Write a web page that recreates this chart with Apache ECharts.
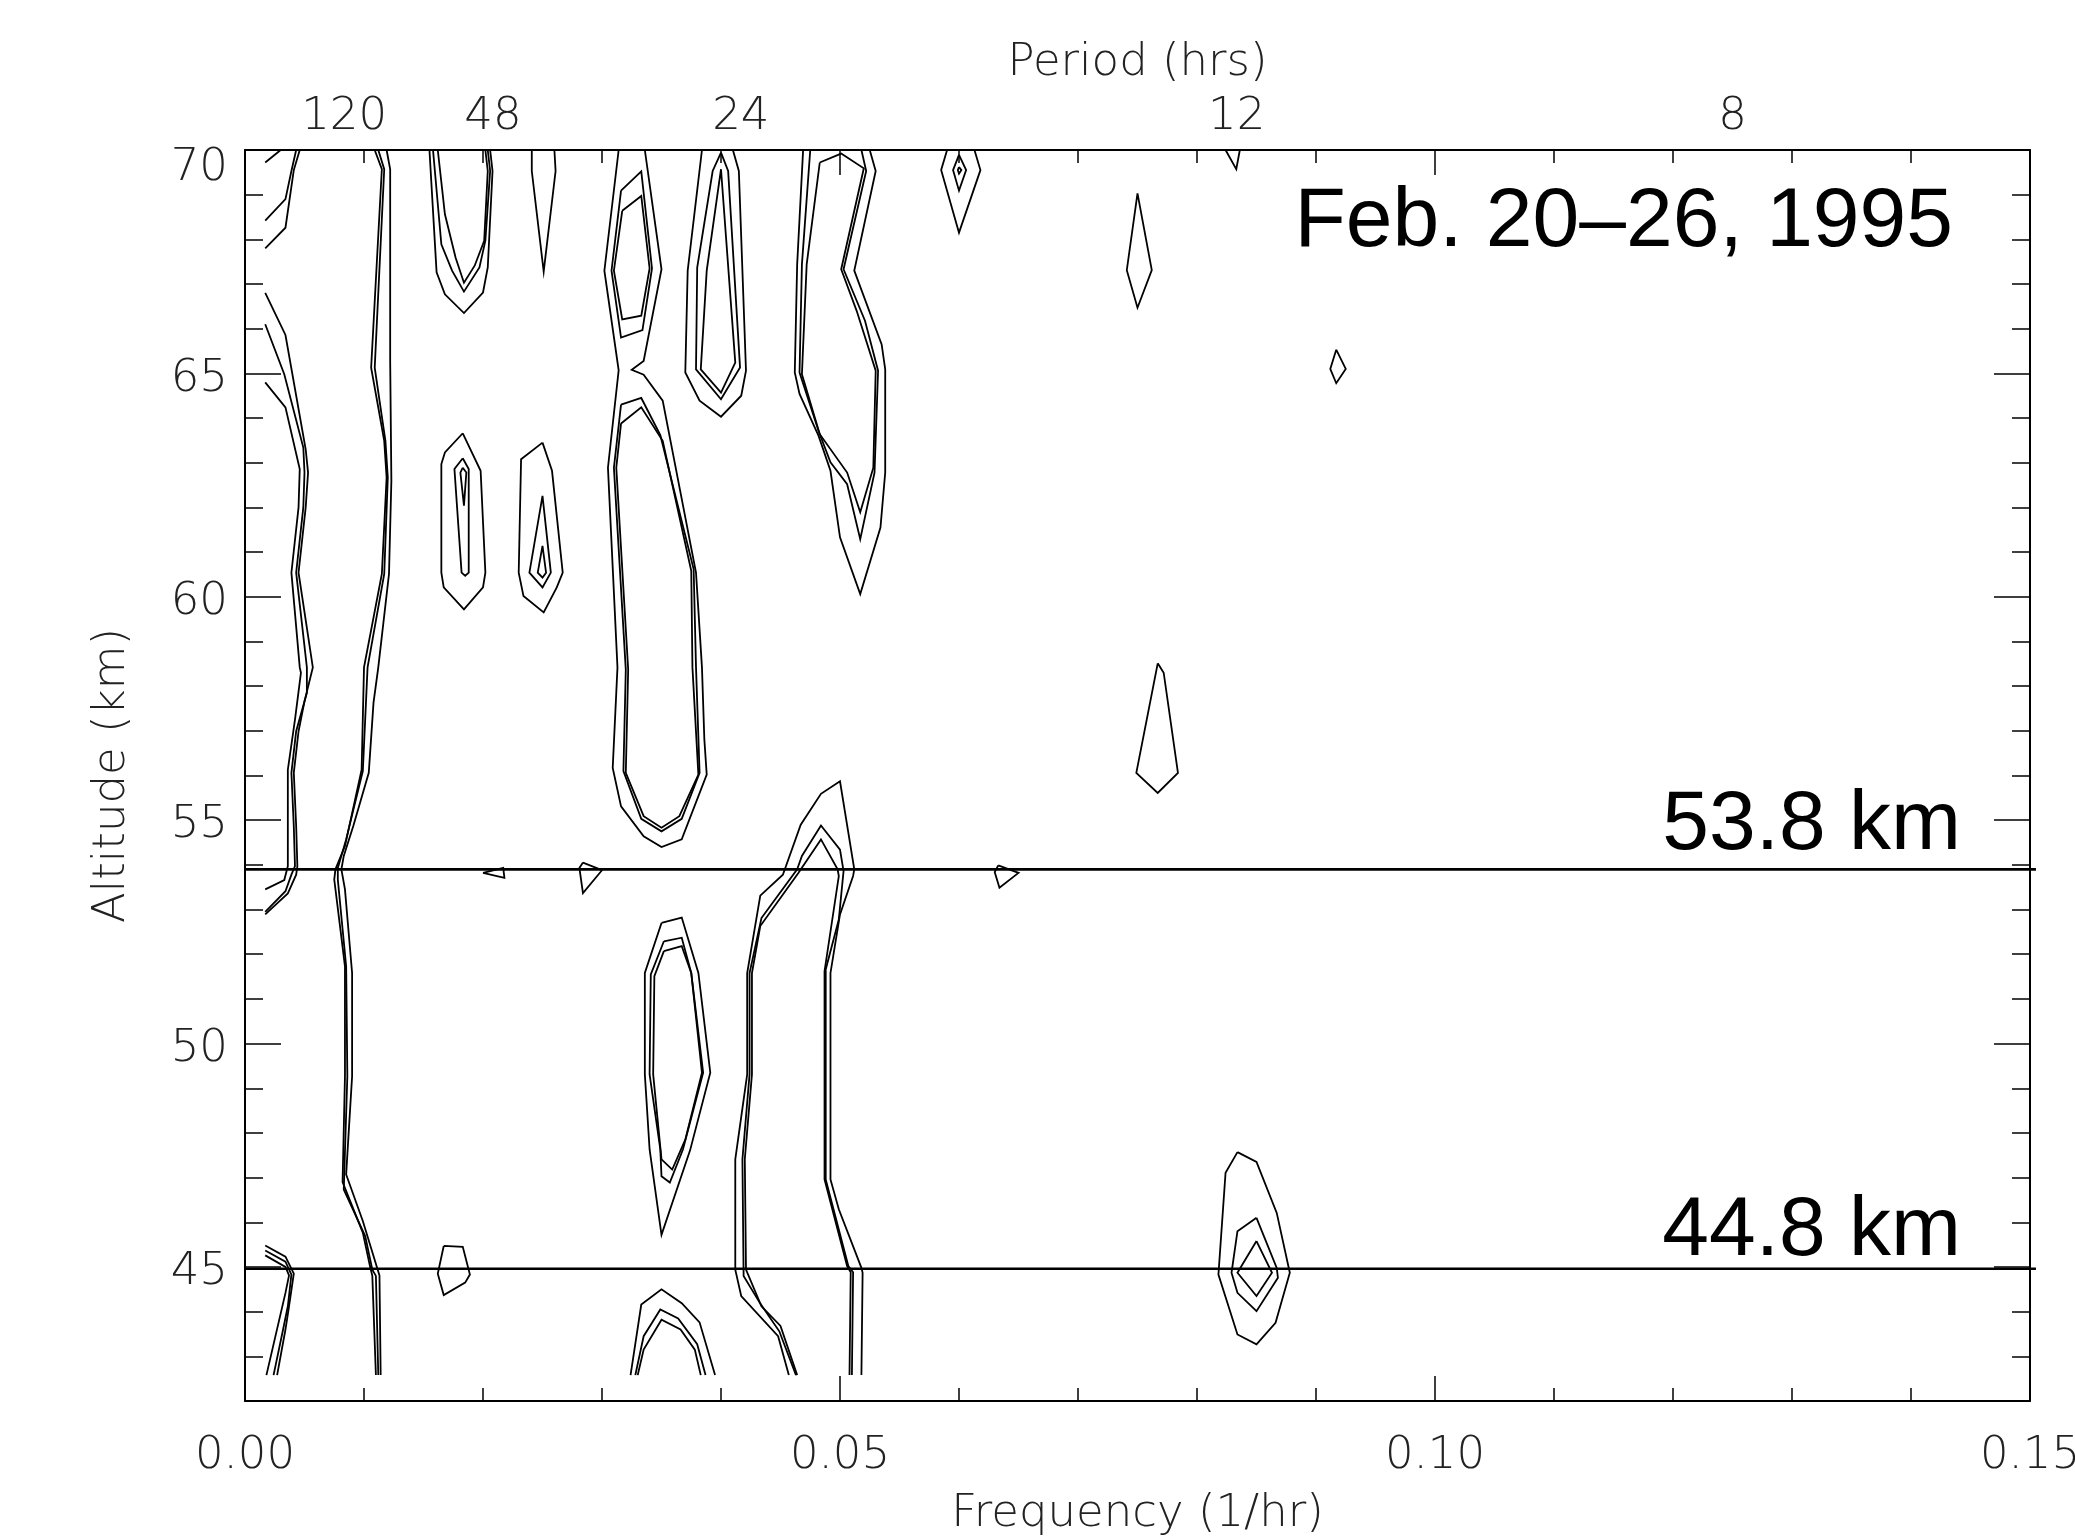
<!DOCTYPE html>
<html>
<head>
<meta charset="utf-8">
<title>Period / frequency contours</title>
<script src="https://cdn.jsdelivr.net/npm/echarts@6/dist/echarts.min.js"></script>
<style>
  html, body { margin: 0; padding: 0; background: #fff; }
  #chart { width: 2075px; height: 1537px; }
</style>
</head>
<body>
<div id="chart"></div>
<script>
// axis values
const freqRange = [0, 0.15];
const altRange = [42, 70];
const altMajor = [45, 50, 55, 60, 65, 70];
const periodHours = [120, 48, 24, 12, 8];
const refAltitudes = [53.9, 44.96];
const refLabels = ["53.8 km", "44.8 km"];

// contour lines, [frequency (1/hr), altitude (km)]
const edgeTop1 = [[0.0017, 69.72], [0.0030, 70.0]];
const edgeTop2 = [[0.0017, 68.42], [0.0034, 68.90], [0.0039, 69.53], [0.0043, 70.0]];
const edgeTop3 = [[0.0017, 67.80], [0.0034, 68.26], [0.0041, 69.55], [0.0046, 70.0]];
const edgeBand1 = [[0.0017, 66.80], [0.0034, 65.86], [0.0051, 63.30], [0.0053, 62.78], [0.0051, 62.00], [0.0045, 60.54], [0.0057, 58.42], [0.0050, 57.66], [0.0045, 56.99], [0.0041, 56.06], [0.0043, 54.87], [0.0044, 53.97], [0.0043, 53.78], [0.0036, 53.36], [0.0017, 52.89]];
const edgeBand2 = [[0.0017, 66.10], [0.0033, 64.98], [0.0049, 63.34], [0.0050, 62.78], [0.0049, 62.00], [0.0043, 60.54], [0.0052, 58.42], [0.0052, 57.85], [0.0043, 56.99], [0.0039, 56.06], [0.0041, 54.87], [0.0042, 53.97], [0.0039, 53.78], [0.0034, 53.41], [0.0017, 52.95]];
const edgeBand3 = [[0.0017, 64.80], [0.0034, 64.24], [0.0046, 62.86], [0.0045, 62.00], [0.0039, 60.54], [0.0046, 58.42], [0.0047, 58.30], [0.0042, 57.25], [0.0036, 56.13], [0.0036, 53.97], [0.0033, 53.66], [0.0017, 53.45]];
const edgeLow1 = [[0.0017, 45.48], [0.0034, 45.23], [0.0041, 44.85], [0.0037, 44.12], [0.0034, 43.60], [0.0027, 42.58]];
const edgeLow2 = [[0.0017, 45.37], [0.0034, 45.12], [0.0039, 44.83], [0.0036, 44.12], [0.0032, 43.60], [0.0024, 42.58]];
const edgeLow3 = [[0.0017, 45.26], [0.0034, 45.00], [0.0037, 44.81], [0.0034, 44.42], [0.0018, 42.58]];

const band120a = [[0.0109, 70.0], [0.0115, 69.57], [0.0106, 65.13], [0.0117, 63.49], [0.0119, 62.67], [0.0115, 60.51], [0.0100, 58.42], [0.0098, 56.13], [0.0084, 54.42], [0.0076, 53.90], [0.0075, 53.67], [0.0084, 51.73], [0.0084, 49.27], [0.0082, 46.90], [0.0099, 45.77], [0.0105, 45.02], [0.0107, 44.80], [0.0110, 42.58]];
const band120b = [[0.0112, 70.0], [0.0117, 69.57], [0.0109, 65.13], [0.0118, 63.49], [0.0120, 62.67], [0.0117, 60.51], [0.0103, 58.42], [0.0099, 56.10], [0.0085, 54.57], [0.0078, 53.93], [0.0078, 53.67], [0.0085, 51.73], [0.0086, 49.27], [0.0083, 46.73], [0.0101, 45.69], [0.0107, 44.94], [0.0110, 44.80], [0.0112, 42.58]];
const band120c = [[0.0119, 70.0], [0.0122, 69.57], [0.0122, 65.28], [0.0123, 62.60], [0.0121, 60.51], [0.0112, 58.42], [0.0108, 57.63], [0.0104, 56.06], [0.0091, 54.87], [0.0083, 54.20], [0.0081, 53.90], [0.0084, 53.45], [0.0090, 51.58], [0.0090, 49.27], [0.0085, 47.07], [0.0099, 46.03], [0.0111, 44.98], [0.0113, 44.81], [0.0114, 42.58]];

const u48a = [[0.0155, 70.0], [0.0161, 67.26], [0.0168, 66.77], [0.0184, 66.35], [0.0200, 66.81], [0.0204, 67.37], [0.0208, 69.53], [0.0206, 70.0]];
const u48b = [[0.0158, 70.0], [0.0165, 67.89], [0.0174, 67.30], [0.0184, 66.83], [0.0197, 67.37], [0.0202, 67.97], [0.0206, 69.53], [0.0204, 70.0]];
const u48c = [[0.0162, 70.0], [0.0168, 68.56], [0.0177, 67.59], [0.0184, 67.03], [0.0193, 67.41], [0.0201, 67.97], [0.0204, 69.53], [0.0202, 70.0]];
const spike36 = [[0.0241, 70.0], [0.0241, 69.53], [0.0251, 67.28], [0.0261, 69.53], [0.0260, 70.0]];

const blob55a = [[0.0183, 63.66], [0.0198, 62.82], [0.0202, 60.54], [0.0200, 60.21], [0.0184, 59.72], [0.0167, 60.21], [0.0165, 60.54], [0.0165, 62.97], [0.0168, 63.23], [0.0183, 63.66]];
const blob55b = [[0.0183, 63.10], [0.0188, 62.86], [0.0188, 60.54], [0.0185, 60.47], [0.0182, 60.54], [0.0176, 62.86], [0.0183, 63.10]];
const blob55c = [[0.0183, 62.89], [0.0186, 62.78], [0.0184, 62.04], [0.0181, 62.78], [0.0183, 62.89]];
const blob40a = [[0.0250, 63.45], [0.0258, 62.82], [0.0267, 60.54], [0.0262, 60.21], [0.0251, 59.65], [0.0234, 60.02], [0.0230, 60.54], [0.0232, 63.08], [0.0250, 63.45]];
const blob40b = [[0.0250, 62.26], [0.0257, 60.54], [0.0250, 60.21], [0.0239, 60.54], [0.0250, 62.26]];
const blob40c = [[0.0250, 61.14], [0.0253, 60.54], [0.0250, 60.43], [0.0246, 60.54], [0.0250, 61.14]];

const band30outer = [[0.0314, 70.0], [0.0302, 67.30], [0.0314, 65.07], [0.0305, 62.89], [0.0313, 58.42], [0.0309, 56.17], [0.0316, 55.31], [0.0335, 54.64], [0.0350, 54.40], [0.0367, 54.57], [0.0388, 56.02], [0.0386, 56.81], [0.0384, 58.42], [0.0379, 60.54], [0.0351, 64.39], [0.0335, 64.97], [0.0325, 65.08], [0.0335, 65.28], [0.0350, 67.33], [0.0336, 70.0]];
const upper30a = [[0.0316, 69.09], [0.0333, 69.52], [0.0342, 67.35], [0.0334, 65.97], [0.0316, 65.80], [0.0308, 67.30], [0.0316, 69.09]];
const upper30b = [[0.0317, 68.64], [0.0333, 68.97], [0.0340, 67.35], [0.0333, 66.29], [0.0317, 66.21], [0.0310, 67.30], [0.0317, 68.64]];
const lower30a = [[0.0316, 64.30], [0.0333, 64.45], [0.0349, 63.62], [0.0377, 60.62], [0.0379, 58.42], [0.0382, 56.06], [0.0367, 55.03], [0.0350, 54.75], [0.0333, 55.03], [0.0318, 56.10], [0.0320, 58.37], [0.0310, 62.89], [0.0316, 64.30]];
const lower30b = [[0.0316, 63.88], [0.0333, 64.24], [0.0351, 63.49], [0.0375, 60.58], [0.0376, 58.42], [0.0381, 56.02], [0.0365, 55.09], [0.0350, 54.83], [0.0335, 55.09], [0.0320, 56.06], [0.0322, 58.37], [0.0312, 62.89], [0.0316, 63.88]];

const tall24a = [[0.0384, 70.0], [0.0372, 67.30], [0.0370, 65.02], [0.0382, 64.39], [0.0400, 64.03], [0.0417, 64.50], [0.0421, 65.06], [0.0415, 69.53], [0.0410, 70.0]];
const tall24b = [[0.0400, 69.94], [0.0406, 69.53], [0.0416, 65.13], [0.0400, 64.42], [0.0379, 65.09], [0.0380, 67.37], [0.0393, 69.53], [0.0400, 69.94]];
const tall24c = [[0.0400, 69.57], [0.0412, 65.24], [0.0400, 64.57], [0.0383, 65.09], [0.0388, 67.30], [0.0400, 69.57]];

const loop20a = [[0.0469, 70.0], [0.0464, 67.44], [0.0462, 65.02], [0.0466, 64.54], [0.0482, 63.60], [0.0492, 62.82], [0.0500, 61.33], [0.0517, 60.06], [0.0534, 61.55], [0.0538, 62.78], [0.0538, 65.09], [0.0535, 65.65], [0.0512, 67.30], [0.0530, 69.53], [0.0525, 70.0]];
const loop20b = [[0.0475, 70.0], [0.0468, 67.44], [0.0466, 65.02], [0.0482, 63.71], [0.0492, 63.01], [0.0506, 62.52], [0.0517, 61.29], [0.0529, 62.78], [0.0532, 65.06], [0.0521, 66.18], [0.0503, 67.33], [0.0522, 69.53], [0.0518, 70.0]];
const loop20c = [[0.0483, 69.72], [0.0501, 69.92], [0.0520, 69.59], [0.0501, 67.33], [0.0514, 66.40], [0.0530, 65.06], [0.0528, 62.89], [0.0517, 61.89], [0.0506, 62.78], [0.0483, 63.64], [0.0468, 64.98], [0.0472, 67.44], [0.0483, 69.72]];

const diamond16a = [[0.0590, 70.0], [0.0585, 69.55], [0.0600, 68.15], [0.0618, 69.55], [0.0613, 70.0]];
const diamond16b = [[0.0600, 69.89], [0.0606, 69.55], [0.0600, 69.09], [0.0595, 69.55], [0.0600, 69.89]];
const diamond16c = [[0.0600, 69.62], [0.0602, 69.55], [0.0600, 69.47], [0.0599, 69.55], [0.0600, 69.62]];
const spike13 = [[0.0750, 69.03], [0.0762, 67.31], [0.0750, 66.47], [0.0741, 67.31], [0.0750, 69.03]];
const notch12 = [[0.0824, 70.0], [0.0833, 69.57], [0.0836, 70.0]];
const speck11 = [[0.0917, 65.53], [0.0925, 65.10], [0.0917, 64.78], [0.0912, 65.10], [0.0917, 65.53]];
const spike13low = [[0.0767, 58.51], [0.0772, 58.30], [0.0784, 56.06], [0.0767, 55.61], [0.0749, 56.06], [0.0767, 58.51]];

const arch20a = [[0.0457, 42.58], [0.0448, 43.45], [0.0417, 44.35], [0.0412, 44.94], [0.0412, 47.41], [0.0422, 49.31], [0.0422, 51.58], [0.0433, 53.31], [0.0452, 53.78], [0.0467, 54.90], [0.0484, 55.59], [0.0500, 55.87], [0.0512, 53.90], [0.0511, 53.75], [0.0500, 52.89], [0.0492, 51.58], [0.0492, 46.96], [0.0499, 46.29], [0.0518, 44.98], [0.0519, 44.87], [0.0518, 42.58]];
const arch20b = [[0.0463, 42.58], [0.0449, 43.56], [0.0433, 44.18], [0.0419, 44.80], [0.0418, 47.41], [0.0424, 49.31], [0.0424, 51.58], [0.0434, 52.81], [0.0464, 53.90], [0.0468, 54.20], [0.0484, 54.88], [0.0500, 54.34], [0.0503, 53.86], [0.0499, 52.78], [0.0488, 51.66], [0.0488, 46.96], [0.0507, 45.02], [0.0511, 44.88], [0.0510, 42.58]];
const arch20c = [[0.0464, 42.58], [0.0450, 43.68], [0.0434, 44.12], [0.0421, 44.94], [0.0420, 47.41], [0.0426, 49.31], [0.0426, 51.58], [0.0433, 52.63], [0.0465, 53.82], [0.0484, 54.57], [0.0498, 53.90], [0.0499, 53.75], [0.0487, 51.62], [0.0487, 46.96], [0.0506, 45.02], [0.0509, 44.88], [0.0508, 42.58]];

const loop28a = [[0.0350, 52.70], [0.0367, 52.82], [0.0381, 51.58], [0.0391, 49.35], [0.0374, 47.61], [0.0350, 45.72], [0.0340, 47.63], [0.0336, 49.31], [0.0336, 51.58], [0.0350, 52.70]];
const loop28b = [[0.0352, 52.29], [0.0367, 52.37], [0.0375, 51.58], [0.0385, 49.35], [0.0368, 47.63], [0.0357, 46.89], [0.0350, 47.03], [0.0349, 47.63], [0.0340, 49.31], [0.0341, 51.55], [0.0352, 52.29]];
const loop28c = [[0.0352, 52.07], [0.0367, 52.18], [0.0375, 51.58], [0.0384, 49.35], [0.0370, 47.85], [0.0359, 47.18], [0.0350, 47.41], [0.0343, 49.31], [0.0344, 51.51], [0.0352, 52.07]];
const arch28a = [[0.0324, 42.58], [0.0333, 44.16], [0.0350, 44.50], [0.0367, 44.19], [0.0382, 43.76], [0.0395, 42.58]];
const arch28b = [[0.0328, 42.58], [0.0335, 43.45], [0.0349, 44.05], [0.0364, 43.85], [0.0380, 43.27], [0.0387, 42.58]];
const arch28c = [[0.0330, 42.58], [0.0335, 43.15], [0.0350, 43.82], [0.0366, 43.60], [0.0378, 43.15], [0.0383, 42.58]];

const tri48 = [[0.0200, 53.82], [0.0217, 53.93], [0.0218, 53.71], [0.0200, 53.82]];
const tri36 = [[0.0284, 54.05], [0.0300, 53.88], [0.0284, 53.37], [0.0281, 53.93], [0.0284, 54.05]];
const tri16 = [[0.0633, 53.99], [0.0650, 53.82], [0.0634, 53.49], [0.0630, 53.84], [0.0633, 53.99]];
const pent60 = [[0.0167, 45.47], [0.0183, 45.45], [0.0189, 44.83], [0.0185, 44.65], [0.0167, 44.37], [0.0162, 44.85], [0.0167, 45.47]];

const peak12a = [[0.0834, 47.57], [0.0850, 47.35], [0.0867, 46.21], [0.0878, 44.87], [0.0866, 43.75], [0.0850, 43.27], [0.0834, 43.49], [0.0818, 44.83], [0.0824, 47.11], [0.0834, 47.57]];
const peak12b = [[0.0850, 46.10], [0.0867, 44.98], [0.0868, 44.76], [0.0850, 44.01], [0.0834, 44.42], [0.0829, 44.87], [0.0834, 45.80], [0.0850, 46.10]];
const peak12c = [[0.0850, 45.58], [0.0863, 44.87], [0.0850, 44.35], [0.0834, 44.87], [0.0850, 45.58]];

const contours = [
  edgeTop1, edgeTop2, edgeTop3, edgeBand1, edgeBand2, edgeBand3, edgeLow1, edgeLow2, edgeLow3,
  band120a, band120b, band120c, u48a, u48b, u48c, spike36,
  blob55a, blob55b, blob55c, blob40a, blob40b, blob40c,
  band30outer, upper30a, upper30b, lower30a, lower30b,
  tall24a, tall24b, tall24c, loop20a, loop20b, loop20c,
  diamond16a, diamond16b, diamond16c, spike13, notch12, speck11, spike13low,
  arch20a, arch20b, arch20c, loop28a, loop28b, loop28c, arch28a, arch28b, arch28c,
  tri48, tri36, tri16, pent60, peak12a, peak12b, peak12c
];

const altMinor = [];
for (let a = altRange[0] + 1; a < altRange[1]; a++) {
  if (altMajor.indexOf(a) < 0) altMinor.push(a);
}

const labelFont = {
  fontFamily: "DejaVu Sans",
  fontWeight: 200,
  fontSize: 45,
  color: "#222",
};
const black = { color: "#000", width: 1.5 };

const chart = echarts.init(document.getElementById("chart"), null, { renderer: "canvas" });

function yAxisDef(position, ticks, length, withLine, withLabel) {
  return {
    type: "value",
    position: position,
    min: altRange[0],
    max: altRange[1],
    interval: 1,
    axisLine: { show: withLine, onZero: false, lineStyle: { color: "#000", width: 2 } },
    axisTick: { show: true, inside: true, length: length, customValues: ticks, lineStyle: black },
    axisLabel: withLabel
      ? Object.assign(
          {
            show: true,
            customValues: altMajor,
            margin: 17,
            padding: [11, 0, 0, 0],
            // the top label sits a little below its tick in the original
            formatter: (v) => (v === altRange[1] ? "{top|" + v + "}" : String(v)),
            rich: { top: Object.assign({ padding: [26, 0, 0, 0] }, labelFont) },
          },
          labelFont
        )
      : { show: false },
    splitLine: { show: false },
  };
}

function xAxisDef(position) {
  return {
    type: "value",
    position: position,
    min: freqRange[0],
    max: freqRange[1],
    interval: 0.05,
    axisLine: { show: true, onZero: false, lineStyle: { color: "#000", width: 2 } },
    axisTick: { show: true, inside: true, length: 25, lineStyle: black },
    minorTick: { show: true, splitNumber: 5, length: 13, lineStyle: black },
    splitLine: { show: false },
    minorSplitLine: { show: false },
  };
}

const bottomAxis = Object.assign(xAxisDef("bottom"), {
  axisLabel: Object.assign({ margin: 33, formatter: (v) => v.toFixed(2) }, labelFont),
  name: "Frequency (1/hr)",
  nameLocation: "middle",
  nameGap: 91,
  nameTextStyle: labelFont,
});

const topAxis = Object.assign(xAxisDef("top"), {
  axisLabel: Object.assign(
    {
      margin: 10,
      customValues: periodHours.map((p) => 1 / p),
      formatter: (v) => String(Math.round(1 / v)),
    },
    labelFont
  ),
  name: "Period (hrs)",
  nameLocation: "middle",
  nameGap: 64,
  nameTextStyle: labelFont,
});

const leftAxis = Object.assign(yAxisDef("left", altMajor, 36, true, true), {
  name: "Altitude (km)",
  nameLocation: "middle",
  nameGap: 110,
  nameTextStyle: labelFont,
});

const bigFont = "84px 'Liberation Sans', Arial, sans-serif";

chart.setOption({
  animation: false,
  backgroundColor: "#fff",
  grid: { left: 245, right: 45, top: 150, bottom: 136, containLabel: false, outerBoundsMode: "none" },
  xAxis: [bottomAxis, topAxis],
  yAxis: [
    leftAxis,
    yAxisDef("left", altMinor, 18, false, false),
    yAxisDef("right", altMajor, 36, true, false),
    yAxisDef("right", altMinor, 18, false, false),
  ],
  series: [
    {
      type: "lines",
      coordinateSystem: "cartesian2d",
      polyline: true,
      silent: true,
      data: contours.map((c) => ({ coords: c })),
      lineStyle: { color: "#000", width: 1.8, opacity: 1 },
    },
    {
      type: "lines",
      coordinateSystem: "cartesian2d",
      polyline: true,
      silent: true,
      clip: false,
      data: refAltitudes.map((a) => ({ coords: [[freqRange[0], a], [0.1505, a]] })),
      lineStyle: { color: "#000", width: 2.6, opacity: 1 },
    },
  ],
  graphic: [
    {
      type: "text",
      x: 1953,
      y: 223,
      style: { text: "Feb. 20\u201326, 1995", font: bigFont, fill: "#000", textAlign: "right", textVerticalAlign: "middle", align: "right", verticalAlign: "middle" },
    },
    {
      type: "text",
      x: 1961,
      y: 826,
      style: { text: refLabels[0], font: bigFont, fill: "#000", textAlign: "right", textVerticalAlign: "middle", align: "right", verticalAlign: "middle" },
    },
    {
      type: "text",
      x: 1961,
      y: 1232,
      style: { text: refLabels[1], font: bigFont, fill: "#000", textAlign: "right", textVerticalAlign: "middle", align: "right", verticalAlign: "middle" },
    },
  ],
});
</script>
</body>
</html>
